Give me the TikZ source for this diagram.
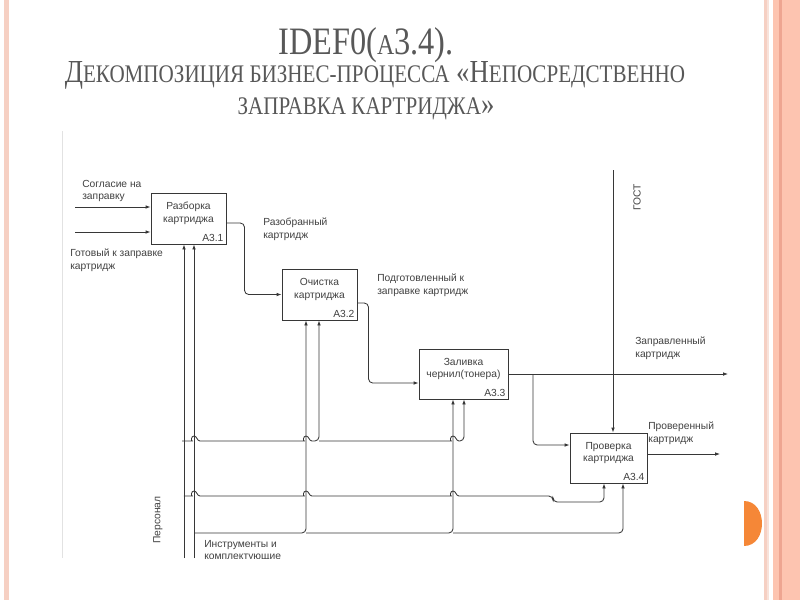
\documentclass[tikz,border=0pt]{standalone}
\usepackage{fontspec}
\setmainfont{Liberation Serif}
\newfontfamily\diagfont{Liberation Sans}
\usepackage{tikz}
\usetikzlibrary{arrows.meta, positioning, calc}
\definecolor{slidepink}{RGB}{246,208,195}
\definecolor{slidepale}{RGB}{248,226,218}
\definecolor{slidesalmon}{RGB}{253,196,176}
\definecolor{slidedark}{RGB}{238,165,145}
\definecolor{slideorange}{RGB}{245,135,55}
\definecolor{titlegray}{RGB}{88,88,88}
\definecolor{linegray}{RGB}{55,55,55}
\definecolor{textgray}{RGB}{65,65,65}
\definecolor{framegray}{RGB}{226,226,226}
\newcommand\scword[1]{{\fontsize{15}{18}\selectfont #1}}
\newcommand\tall[1]{\scalebox{1}[1.2]{#1}}
\tikzset{
  box/.style={rectangle, draw=linegray, fill=white, line width=0.7pt,
    minimum width=1.875cm, minimum height=1.275cm, align=center,
    font=\diagfont\fontsize{7.3}{8.8}\selectfont, text=textgray, inner sep=0pt},
  boxno/.style={anchor=south east, inner sep=2pt,
    font=\diagfont\fontsize{7.3}{8.8}\selectfont, text=textgray},
  lbl/.style={anchor=north west, align=left, inner sep=0pt,
    font=\diagfont\fontsize{7.3}{8.8}\selectfont, text=textgray},
  arrow/.style={-{Latex[length=3.5pt,width=2.6pt]}, line width=0.6pt,
    color=linegray, rounded corners=3pt},
  jump/.style 2 args={insert path={-- (#1-6,#2) [sharp corners]
    .. controls (#1-3,#2) and (#1-3,#2-5) .. (#1,#2-5)
    .. controls (#1+3,#2-5) and (#1+3,#2) .. (#1+6,#2) [rounded corners=3pt]}},
  ttl/.style={anchor=base, inner sep=0pt, text=titlegray}
}

\begin{document}
\begin{tikzpicture}[x=0.025cm, y=-0.025cm]
  \useasboundingbox (0,0) rectangle (800,600);
  \fill[white] (0,0) rectangle (800,600);
  \fill[slidepink] (4,0) rectangle (9,600);
  \fill[slidepink] (764,0) rectangle (766.5,600);
  \fill[slidepale] (767,0) rectangle (768.5,600);
  \fill[slidesalmon] (773,0) rectangle (800,600);
  \fill[slidedark] (779,0) rectangle (781.5,600);
  \fill[slideorange] (744,501) .. controls (768,501) and (768,546) .. (744,546) -- cycle;

  \node[ttl, font=\fontsize{23}{26}\selectfont] (t1) at (366,54)
    {\tall{IDEF0({\fontsize{17}{20}\selectfont А}3.4).}};
  \node[ttl, font=\fontsize{19}{22}\selectfont] (t2) at (375,82)
    {\tall{Д\scword{ЕКОМПОЗИЦИЯ БИЗНЕС-ПРОЦЕССА} «Н\scword{ЕПОСРЕДСТВЕННО}}};
  \node[ttl, font=\fontsize{19}{22}\selectfont] (t3) at (366,114)
    {\tall{\scword{ЗАПРАВКА КАРТРИДЖА}»}};

  \draw[framegray, line width=0.5pt] (62,131) -- (62,558);
  \begin{scope}
    \clip (60,125) rectangle (760,558);
    \node[box] (b1) at (188.5,218.5) {Разборка\\картриджа\\\mbox{}};
    \node[box] (b2) at (319.5,294.5) {Очистка\\картриджа\\\mbox{}};
    \node[box, minimum width=2.225cm, minimum height=1.25cm] (b3) at (463.5,374)
      {Заливка\\чернил(тонера)\\\mbox{}};
    \node[box, minimum width=1.925cm, minimum height=1.25cm] (b4) at (608.5,458)
      {Проверка\\картриджа\\\mbox{}};
    \node[boxno] (n1) at (b1.south east) {А3.1};
    \node[boxno] (n2) at (b2.south east) {А3.2};
    \node[boxno] (n3) at (b3.south east) {А3.3};
    \node[boxno] (n4) at (b4.south east) {А3.4};

    \coordinate (in1) at (75,207);
    \coordinate (in2) at (75,232);
    \coordinate (gost) at (613,170);
    \coordinate (split) at (533,374);
    \coordinate (out3) at (728,374);
    \coordinate (out4) at (720,454);
    \coordinate (pers) at (184,558);
    \coordinate (tools) at (194,558);
    \coordinate (p1) at (182,441);
    \coordinate (p2) at (319,441);
    \coordinate (p3) at (184,496);
    \coordinate (k1) at (194,533);
    \coordinate (k2) at (306,533);
    \coordinate (k3) at (453,533);

    \draw[arrow] (in1) -- (in1 -| b1.west);
    \draw[arrow] (in2) -- (in2 -| b1.west);
    \draw[arrow] (b1.east |- 0,223) -- ++(18,0) |- (b2.west);
    \draw[arrow] (b2.east |- 0,303) -- ++(11,0) |- (b3.west |- 0,383);
    \draw[arrow] (b3.east) -- (out3);
    \draw[arrow] (split) |- (b4.west |- 0,445);
    \draw[arrow] (gost) -- (gost |- b4.north);
    \draw[arrow] (b4.east |- out4) -- (out4);

    \draw[arrow] (pers) -- (pers |- b1.south);
    \draw[arrow] (tools) -- (tools |- b1.south);
    \draw[arrow] (p1) [jump={194}{441}] [jump={306}{441}] -| (b2.south -| p2);
    \draw[arrow] (p2) [jump={453}{441}] -| (b3.south -| 464,0);
    \draw[arrow] (p3) [jump={194}{496}] [jump={306}{496}] [jump={453}{496}]
      -- (553,496) -- (553,502) -| (b4.south -| 604,0);
    \draw[arrow] (k1) -| (b2.south -| k2);
    \draw[arrow] (k2) -| (b3.south -| k3);
    \draw[arrow] (k3) -| (b4.south -| 623,0);

    \node[lbl] (l1) at (82,180) {Согласие на\\заправку};
    \node[lbl] (l2) at (70,249) {Готовый к заправке\\картридж};
    \node[lbl] (l3) at (263,218) {Разобранный\\картридж};
    \node[lbl] (l4) at (377,274) {Подготовленный к\\заправке картридж};
    \node[lbl] (l5) at (635,337) {Заправленный\\картридж};
    \node[lbl] (l6) at (648,422) {Проверенный\\картридж};
    \node[lbl] (l7) at (204,540) {Инструменты и\\комплектующие};
    \node[lbl, rotate=90, anchor=center] (l8) at (637,197) {ГОСТ};
    \node[lbl, rotate=90, anchor=center] (l9) at (158,520) {Персонал};
  \end{scope}
\end{tikzpicture}
\end{document}
